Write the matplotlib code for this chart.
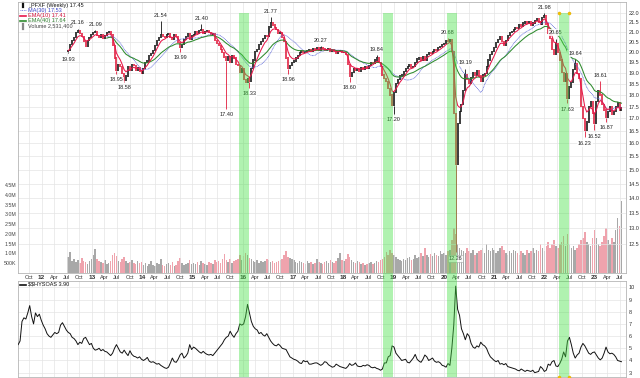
import numpy as np
import pandas as pd
import matplotlib
matplotlib.use('Agg')
import matplotlib.pyplot as plt
import matplotlib.dates as mdates
import matplotlib.transforms as mtransforms
from matplotlib.patches import Rectangle
from matplotlib.lines import Line2D
from matplotlib.ticker import FixedLocator, NullLocator, NullFormatter

plt.rcParams['font.family'] = ['Liberation Sans', 'DejaVu Sans']

# ---------------- data ----------------
price_start = '2012-07-13'          # bi-weekly closes
first_open = 20.0
close_2012 = [20.05, 20.35, 20.55, 20.7, 20.95, 21.05, 20.9, 20.75, 20.5, 20.25, 20.55, 20.7, 20.85]
close_2013 = [20.95, 21.0, 20.8, 20.7, 20.85, 20.65, 20.8, 20.95, 21.0, 20.85, 20.3, 19.7, 19.1, 19.4, 19.3,
              18.95, 18.65, 18.85, 19.3, 19.1, 19.4, 19.35, 19.1, 19.25, 19.05, 18.95]
close_2014 = [19.2, 19.5, 19.55, 19.8, 19.9, 20.05, 20.3, 20.55, 20.7, 20.85, 20.75, 20.7, 20.85, 20.9, 20.7,
              20.6, 20.85, 20.75, 20.45, 20.2, 20.35, 20.6, 20.75, 20.9, 20.6, 20.8]
close_2015 = [20.85, 21.0, 20.9, 21.05, 21.1, 20.9, 21.0, 21.05, 20.95, 20.85, 20.9, 20.55, 20.4, 20.3, 20.1,
              19.95, 19.75, 19.6, 19.75, 19.5, 19.8, 19.7, 19.4, 19.35, 19.0, 19.2]
close_2016 = [18.7, 18.55, 18.75, 18.6, 19.2, 19.6, 20.0, 20.1, 20.35, 20.5, 20.65, 20.8, 20.75, 21.25, 21.45,
              21.35, 21.2, 21.1, 20.9, 20.95, 20.7, 20.5, 19.7, 19.2, 19.35, 19.5]
close_2017 = [19.55, 19.7, 19.8, 19.95, 20.05, 19.95, 20.0, 20.05, 20.1, 20.0, 20.15, 20.1, 20.2, 20.05, 20.2,
              20.15, 20.05, 20.1, 20.15, 20.0, 20.1, 20.0, 19.9, 20.0, 20.05, 19.95]
close_2018 = [19.95, 19.85, 19.4, 18.85, 19.0, 19.2, 19.1, 19.2, 19.05, 19.25, 19.15, 19.3, 19.2, 19.35, 19.5,
              19.45, 19.6, 19.7, 19.5, 19.3, 18.9, 18.75, 18.6, 18.3, 18.0, 17.55]
close_2019 = [18.1, 18.5, 18.7, 18.85, 18.9, 19.05, 19.2, 19.3, 19.4, 19.25, 19.3, 19.5, 19.65, 19.7, 19.6,
              19.75, 19.6, 19.85, 19.95, 19.9, 20.0, 20.1, 20.05, 20.2, 20.25, 20.35]
close_2020 = [20.4, 20.55, 20.5, 20.6, 20.0, 17.2, 15.2, 16.8, 17.3, 17.6, 18.2, 18.9, 18.7, 18.5, 18.8,
              19.0, 18.9, 19.1, 18.85, 18.6, 18.9, 18.95, 19.3, 19.6, 19.85, 20.0]
close_2021 = [20.2, 20.45, 20.6, 20.75, 20.5, 20.3, 20.55, 20.8, 20.95, 21.0, 21.1, 21.2, 21.15, 21.35, 21.3,
              21.45, 21.5, 21.45, 21.55, 21.35, 21.45, 21.6, 21.7, 21.5, 21.4, 21.75, 21.85]
close_2022 = [21.4, 20.9, 20.65, 20.1, 19.85, 20.4, 19.95, 19.6, 19.0, 18.6, 18.95, 17.85, 18.35, 18.55, 19.15,
              19.45, 18.95, 18.75, 17.5, 17.0, 16.5, 16.85, 17.5, 17.7, 17.2, 16.8]
close_2023 = [17.7, 18.2, 18.0, 17.6, 17.35, 17.05, 17.3, 17.5, 17.15, 17.3, 17.5, 17.65, 17.35, 17.45]

volume_k_2012 = [800, 1050, 600, 700, 550, 650, 500, 750, 600, 550, 450, 600, 700]
volume_k_2013 = [900, 1250, 700, 600, 550, 500, 650, 450, 500, 600, 900, 1000, 850, 600, 550, 700, 800, 600,
                 500, 550, 650, 500, 450, 600, 500, 550]
volume_k_2014 = [400, 500, 350, 450, 600, 400, 350, 500, 450, 700, 400, 350, 450, 500, 400, 550, 350, 400,
                 600, 750, 500, 400, 450, 500, 650, 450]
volume_k_2015 = [500, 450, 550, 400, 600, 500, 450, 400, 550, 500, 450, 650, 550, 600, 500, 700, 950, 650,
                 550, 700, 500, 600, 650, 700, 900, 650]
volume_k_2016 = [850, 1000, 900, 750, 700, 600, 550, 650, 500, 600, 550, 600, 700, 650, 550, 600, 500, 550,
                 600, 650, 700, 900, 1100, 800, 750, 700]
volume_k_2017 = [650, 550, 500, 600, 550, 500, 450, 600, 500, 550, 450, 500, 700, 550, 500, 450, 550, 600,
                 500, 650, 550, 500, 600, 750, 1000, 650]
volume_k_2018 = [600, 700, 950, 800, 650, 550, 500, 600, 550, 450, 500, 400, 450, 500, 550, 450, 500, 600,
                 550, 650, 700, 800, 1050, 900, 1200, 1000]
volume_k_2019 = [900, 800, 700, 650, 600, 700, 650, 750, 800, 650, 700, 900, 750, 800, 1000, 850, 1300, 900,
                 800, 950, 850, 1000, 900, 850, 1100, 950]
volume_k_2020 = [1000, 900, 1100, 1200, 1700, 2300, 2000, 1500, 1300, 1200, 1100, 1000, 1300, 1100, 1000,
                 1200, 900, 1000, 1100, 1200, 1300, 1000, 1500, 1200, 1100, 1300]
volume_k_2021 = [1200, 1000, 1100, 1300, 1400, 1200, 1000, 900, 1100, 1000, 1200, 1100, 1000, 900, 1100,
                 1000, 900, 1200, 1000, 1100, 1300, 1000, 1200, 1100, 1500, 1300, 1100]
volume_k_2022 = [1400, 1600, 1300, 1500, 1700, 1400, 1300, 1500, 1600, 1900, 1400, 2000, 1500, 1300, 1400,
                 1200, 1300, 1500, 1700, 1800, 2100, 1600, 1500, 1400, 1800, 2200]
volume_k_2023 = [1800, 1500, 1400, 1600, 1900, 2300, 1700, 1500, 1800, 1600, 2200, 2800, 2400, 3700]

hy_start = '2011-07-15'             # bi-weekly $$HYSOAS
hy_2011 = [5.3, 5.6, 7.2, 7.5, 7.4, 7.9, 8.5, 7.6, 7.0, 7.9, 7.6, 7.8, 7.3]
hy_2012 = [6.9, 6.6, 6.2, 6.0, 5.9, 6.1, 6.3, 6.2, 6.3, 6.9, 7.1, 6.8, 6.5, 6.3, 6.2, 5.9, 5.8, 5.6, 5.3, 5.5,
           5.4, 5.8, 5.9, 5.6, 5.3, 5.4]
hy_2013 = [5.0, 4.85, 4.9, 5.0, 4.8, 4.9, 4.75, 4.7, 4.55, 4.4, 4.6, 5.0, 5.3, 5.0, 4.7, 4.6, 4.85, 4.6, 4.4,
           4.8, 4.5, 4.35, 4.3, 4.2, 4.3, 4.1]
hy_2014 = [4.0, 4.1, 4.25, 3.95, 3.85, 3.9, 3.8, 3.7, 3.75, 3.6, 3.5, 3.4, 3.35, 3.45, 3.8, 4.2, 3.9, 3.85,
           4.1, 4.45, 4.6, 4.2, 4.35, 4.6, 5.3, 4.9]
hy_2015 = [5.1, 5.0, 4.85, 4.7, 4.6, 4.75, 4.6, 4.5, 4.45, 4.5, 4.4, 4.6, 4.8, 5.0, 5.2, 5.4, 5.7, 5.9, 6.0,
           6.4, 6.1, 5.9, 6.2, 6.4, 7.0, 6.9]
hy_2016 = [7.0, 7.6, 8.6, 7.9, 7.2, 6.8, 6.6, 6.5, 6.2, 6.3, 6.1, 6.0, 6.2, 5.9, 5.6, 5.4, 5.25, 5.2, 5.35,
           5.2, 5.0, 4.95, 4.9, 4.6, 4.3, 4.2]
hy_2017 = [4.1, 4.05, 3.95, 3.8, 3.75, 4.0, 3.9, 3.95, 3.7, 3.7, 3.75, 3.8, 3.8, 3.7, 3.6, 3.7, 3.9, 3.85,
           3.65, 3.55, 3.45, 3.5, 3.7, 3.6, 3.5, 3.45]
hy_2018 = [3.4, 3.35, 3.5, 3.75, 3.6, 3.65, 3.8, 3.55, 3.5, 3.5, 3.6, 3.55, 3.65, 3.6, 3.45, 3.4, 3.45, 3.35,
           3.3, 3.2, 3.3, 3.8, 3.8, 4.3, 4.4, 5.2]
hy_2019 = [5.1, 4.6, 4.4, 4.2, 4.0, 4.05, 4.1, 3.85, 3.8, 4.0, 4.2, 4.5, 4.1, 3.95, 3.85, 4.1, 4.45, 4.3, 4.0,
           4.1, 4.2, 3.95, 3.85, 3.9, 3.8, 3.6]
hy_2020 = [3.55, 3.45, 3.75, 3.6, 5.0, 6.9, 10.1, 8.2, 7.7, 6.6, 6.2, 5.7, 6.2, 6.0, 5.4, 5.1, 5.0, 5.2, 5.1,
           5.5, 5.3, 5.2, 5.0, 4.6, 4.3, 4.15]
hy_2021 = [4.0, 3.9, 4.0, 3.7, 3.75, 3.65, 3.75, 3.5, 3.45, 3.4, 3.35, 3.3, 3.2, 3.15, 3.3, 3.2, 3.1, 3.2,
           3.15, 3.1, 3.2, 3.0, 3.05, 3.1, 3.5, 3.35, 3.1]
hy_2022 = [3.2, 3.7, 3.6, 3.9, 4.0, 3.55, 3.5, 3.75, 4.1, 4.7, 4.3, 5.6, 5.9, 5.3, 4.6, 4.2, 4.45, 4.6, 5.1,
           5.4, 5.2, 4.9, 4.6, 4.5, 4.65, 4.7]
hy_2023 = [4.45, 4.2, 4.05, 4.2, 4.6, 5.1, 4.7, 4.55, 4.6, 4.5, 4.3, 4.0, 3.95, 3.9]

high_dates = ['2012-09-21', '2013-01-25', '2014-05-16', '2015-03-06', '2016-07-22', '2017-07-21',
              '2018-08-31', '2020-01-31', '2020-06-05', '2021-12-31', '2022-03-25', '2022-08-12', '2023-02-10']
high_vals = [21.16, 21.09, 21.54, 21.40, 21.77, 20.27, 19.84, 20.68, 19.19, 21.98, 20.65, 19.64, 18.61]
low_dates = ['2012-07-13', '2013-06-28', '2013-08-23', '2014-10-03', '2015-09-04', '2016-02-19',
             '2016-11-25', '2018-02-16', '2019-01-04', '2020-03-27', '2022-06-17', '2022-10-21',
             '2022-12-30', '2023-03-24']
low_vals = [19.93, 18.95, 18.58, 19.99, 17.40, 18.33, 18.96, 18.60, 17.20, 12.26, 17.63, 16.23, 16.52, 16.87]

band_starts = ['2015-12-05', '2018-10-17', '2020-01-24', '2022-04-17']
band_ends = ['2016-02-16', '2018-12-28', '2020-04-07', '2022-06-28']

price_ticks = [12.5, 13.0, 13.5, 14.0, 14.5, 15.0, 15.5, 16.0, 16.5, 17.0, 17.5, 18.0, 18.5, 19.0, 19.5,
               20.0, 20.5, 21.0, 21.5, 22.0]
vol_ticks = [0.5e6, 1.0e6, 1.5e6, 2.0e6, 2.5e6, 3.0e6, 3.5e6, 4.0e6, 4.5e6]
vol_labels = ['500K', '1.0M', '1.5M', '2.0M', '2.5M', '3.0M', '3.5M', '4.0M', '4.5M']
hy_ticks = [3, 4, 5, 6, 7, 8, 9, 10]

# ---------------- assemble ----------------
close = (close_2012 + close_2013 + close_2014 + close_2015 + close_2016 + close_2017 + close_2018 +
         close_2019 + close_2020 + close_2021 + close_2022 + close_2023)
volume = np.array(volume_k_2012 + volume_k_2013 + volume_k_2014 + volume_k_2015 + volume_k_2016 +
                  volume_k_2017 + volume_k_2018 + volume_k_2019 + volume_k_2020 + volume_k_2021 +
                  volume_k_2022 + volume_k_2023) * 1000.0
hy = (hy_2011 + hy_2012 + hy_2013 + hy_2014 + hy_2015 + hy_2016 + hy_2017 + hy_2018 + hy_2019 + hy_2020 +
      hy_2021 + hy_2022 + hy_2023)

dates = pd.date_range(price_start, periods=len(close), freq='14D')
hy_dates = pd.date_range(hy_start, periods=len(hy), freq='14D')
s = pd.Series(close, index=dates)
opens = np.array([first_open] + close[:-1])
closes = np.array(close)
up = closes >= opens
ema10 = s.ewm(span=5, adjust=False).mean()
ema40 = s.ewm(span=20, adjust=False).mean()
ma30 = s.rolling(15, min_periods=15).mean()
ema40[:20] = np.nan
ma30[:20] = np.nan

W, H = 640, 378
def rect(l, t, r, b):
    return [l / W, 1 - b / H, (r - l) / W, (b - t) / H]

fig = plt.figure(figsize=(6.4, 3.78), dpi=100)
fig.patch.set_facecolor('white')
ax_v = fig.add_axes(rect(18, 2, 626, 273))
ax = fig.add_axes(rect(18, 2, 626, 273))
ax_h = fig.add_axes(rect(18, 281, 626, 376.7))
ax_v.set_zorder(1)
ax.set_zorder(2)
ax.patch.set_visible(False)

xlim = (pd.Timestamp('2011-07-14'), pd.Timestamp('2023-08-16'))
for a in (ax_v, ax, ax_h):
    a.set_xlim(*xlim)

UPC, DNC = '#111111', '#e01b3c'
GRID = '#e4e4e4'

# volume
vcols = np.where(up, '#a8a8a8', '#efa3ad')
ax_v.bar(dates, volume, width=11, color=vcols, linewidth=0)
ax_v.set_ylim(0, 13.85e6)
ax_v.yaxis.set_major_locator(FixedLocator(vol_ticks))
ax_v.set_yticklabels(vol_labels)
ax_v.tick_params(axis='y', length=0, pad=1, labelsize=3.8, labelcolor='#444444')
ax_v.tick_params(axis='x', bottom=False, labelbottom=False)
for sp in ax_v.spines.values():
    sp.set_visible(False)

# price candles
ax.set_yscale('log')
lo = np.minimum(opens, closes) * 0.9985
hi = np.maximum(opens, closes) * 1.0015
ccols = np.where(up, UPC, DNC)
ax.vlines(dates, lo, hi, colors=ccols, lw=1.15, zorder=3)

def bar_index(d):
    return int(np.argmin(np.abs((dates - pd.Timestamp(d)).days)))

for d, v in zip(high_dates, high_vals):
    i = bar_index(d)
    ax.vlines(dates[i], hi[i], v, colors=ccols[i], lw=0.6, zorder=3)
    ax.annotate(f'{v:.2f}', (dates[i], v), xytext=(0, 2.5), textcoords='offset points',
                ha='center', va='bottom', fontsize=4, color='#222222', zorder=6,
                bbox=dict(boxstyle='square,pad=0.15', fc='white', ec='none', alpha=0.85))
for d, v in zip(low_dates, low_vals):
    i = bar_index(d)
    ax.vlines(dates[i], v, lo[i], colors=ccols[i], lw=0.6, zorder=3)
    ec = '#999999' if v < 13 else 'none'
    ax.annotate(f'{v:.2f}', (dates[i], v), xytext=(0, -2.5), textcoords='offset points',
                ha='center', va='top', fontsize=4, color='#222222', zorder=6,
                bbox=dict(boxstyle='square,pad=0.15', fc='white', ec=ec, lw=0.4, alpha=0.85))

ax.plot(dates, ma30.values, color='#5560d8', lw=0.55, ls=(0, (1.2, 0.8)), zorder=4)
ax.plot(dates, ema40.values, color='#2e8b2e', lw=0.75, zorder=4)
ax.plot(dates, ema10.values, color='#e8174a', lw=0.75, zorder=4)

ax.set_ylim(11.66, 22.58)
ax.yaxis.set_major_locator(FixedLocator(price_ticks))
ax.yaxis.set_minor_locator(NullLocator())
ax.yaxis.set_minor_formatter(NullFormatter())
ax.set_yticklabels([f'{t:.1f}' for t in price_ticks])
ax.yaxis.tick_right()
ax.tick_params(axis='y', length=0, pad=2, labelsize=4, labelcolor='#333333')

qt = pd.date_range('2011-10-01', '2023-07-01', freq='QS-JAN')
qlabels = [f'{d.year % 100:02d}' if d.month == 1 else d.strftime('%b') for d in qt]
ax.set_xticks(qt)
ax.set_xticklabels(qlabels)
ax.tick_params(axis='x', length=0, pad=1.5, labelsize=4, labelcolor='#333333')
for lab, d in zip(ax.get_xticklabels(), qt):
    if d.month == 1:
        lab.set_fontweight('bold')
        lab.set_fontsize(4.6)
ax.grid(True, color=GRID, lw=0.5, zorder=0)
for sp in ax.spines.values():
    sp.set_color('#b5b5b5')
    sp.set_linewidth(0.6)

# HYSOAS panel
ax_h.plot(hy_dates, hy, color='#111111', lw=0.7, zorder=3)
ax_h.set_ylim(2.67, 10.52)
ax_h.yaxis.set_major_locator(FixedLocator(hy_ticks))
ax_h.yaxis.tick_right()
ax_h.tick_params(axis='y', length=0, pad=2, labelsize=4, labelcolor='#333333')
ax_h.set_xticks(qt)
ax_h.tick_params(axis='x', length=0, labelbottom=False)
ax_h.grid(True, color=GRID, lw=0.5, zorder=0)
for sp in ax_h.spines.values():
    sp.set_color('#b5b5b5')
    sp.set_linewidth(0.6)

# legends
def ftxt(x, y, t, c):
    fig.text(x / W, 1 - y / H, t, fontsize=4, color=c, va='center', ha='left')
def fline(x0, x1, y, c, lw=0.8, ls='-'):
    fig.add_artist(Line2D([x0 / W, x1 / W], [1 - y / H, 1 - y / H], color=c, lw=lw, ls=ls,
                          transform=fig.transFigure))
fig.add_artist(Line2D([22.5 / W] * 2, [1 - 3 / H, 1 - 7 / H], color='#111111', lw=1.6,
                      transform=fig.transFigure))
ftxt(28, 5, '_PFXF (Weekly) 17.45', '#111111')
fline(20, 26, 10.3, '#5560d8', lw=0.6, ls=(0, (1, 1)))
ftxt(28, 10.3, 'MA(30) 17.53', '#3a44c8')
fline(20, 26, 15.5, '#e8174a', lw=1.2)
ftxt(28, 15.5, 'EMA(10) 17.41', '#d0103a')
fline(20, 26, 20.8, '#2e8b2e', lw=1.2)
ftxt(28, 20.8, 'EMA(40) 17.64', '#2e7d2e')
fig.add_artist(Line2D([22.5 / W] * 2, [1 - 24 / H, 1 - 28.5 / H], color='#888888', lw=1.6,
                      transform=fig.transFigure))
ftxt(28, 26.2, 'Volume 2,531,400', '#444444')
fline(20, 26, 284.5, '#111111', lw=1.2)
ftxt(28, 284.5, r'\$\$HYSOAS 3.90', '#111111')

# highlighted bands
blend = mtransforms.blended_transform_factory(ax.transData, fig.transFigure)
y_top, y_bot = 1 - 12.7 / H, 1 - 376.7 / H
for bs, be in zip(band_starts, band_ends):
    x0 = mdates.date2num(pd.Timestamp(bs))
    x1 = mdates.date2num(pd.Timestamp(be))
    fig.add_artist(Rectangle((x0, y_bot), x1 - x0, y_top - y_bot, transform=blend,
                             facecolor='#44e044', alpha=0.42, lw=0, zorder=10))
bx0 = mdates.date2num(pd.Timestamp(band_starts[-1]))
bx1 = mdates.date2num(pd.Timestamp(band_ends[-1]))
fig.add_artist(Line2D([bx0, bx1, bx0, bx1], [y_top, y_top, y_bot, y_bot], ls='none', marker='o',
                      ms=2.2, mfc='#f2c200', mec='#e0a800', mew=0.3, transform=blend, zorder=11))

fig.savefig('out.png', dpi=100, facecolor='white')
